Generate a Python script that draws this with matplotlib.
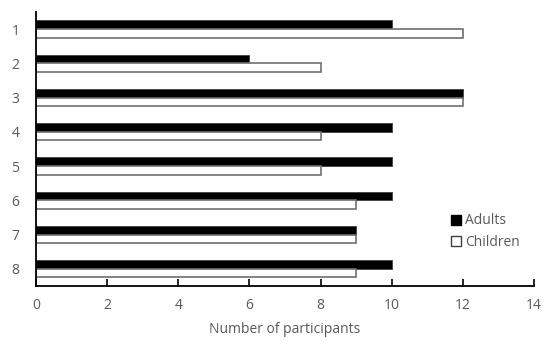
import matplotlib
matplotlib.use("Agg")
import matplotlib.pyplot as plt
from matplotlib.lines import Line2D
import numpy as np

plt.rcParams['font.family'] = ['Open Sans', 'DejaVu Sans']

categories = ["1", "2", "3", "4", "5", "6", "7", "8"]
adults = [10, 6, 12, 10, 10, 10, 9, 10]
children = [12, 8, 12, 8, 8, 9, 9, 9]
xticks = [0, 2, 4, 6, 8, 10, 12, 14]

fig = plt.figure(figsize=(5.5, 3.5), dpi=100)
ax = fig.add_axes([0.0655, 0.183, 0.9055, 0.783])

y = np.arange(len(categories))
h = 0.25
ax.barh(y - h / 2, adults, height=h, color='black', edgecolor='#404040', linewidth=0.6)
ax.barh(y + h / 2, children, height=h, color='white', edgecolor='#6f6f6f', linewidth=1.2)

ax.set_ylim(len(categories) - 0.5, -0.5)
ax.set_xlim(0, 14)
ax.set_yticks(y)
ax.set_yticklabels(categories)
ax.set_xticks(xticks)
ax.set_xticklabels([str(t) for t in xticks])

for s in ['top', 'right']:
    ax.spines[s].set_visible(False)
for s in ['left', 'bottom']:
    ax.spines[s].set_linewidth(1.3)
    ax.spines[s].set_color('black')

ax.tick_params(axis='x', direction='in', length=5, width=1.2, colors='black',
               labelcolor='#595959', labelsize=10, pad=9)
ax.tick_params(axis='y', length=0, labelcolor='#595959', labelsize=10, pad=12)

ax.set_xlabel("Number of participants", color='#595959', fontsize=10, labelpad=6)

handles = [
    Line2D([], [], marker='s', linestyle='none', markersize=7,
           markerfacecolor='black', markeredgecolor='black', label='Adults'),
    Line2D([], [], marker='s', linestyle='none', markersize=7,
           markerfacecolor='white', markeredgecolor='#404040', label='Children'),
]
leg = ax.legend(handles=handles, loc='upper left', bbox_to_anchor=(0.805, 0.31),
                frameon=False, handletextpad=0.1, labelspacing=0.45, fontsize=10,
                handlelength=1.0)
for t in leg.get_texts():
    t.set_color('#595959')

fig.savefig("out.png", dpi=100, facecolor='white')
